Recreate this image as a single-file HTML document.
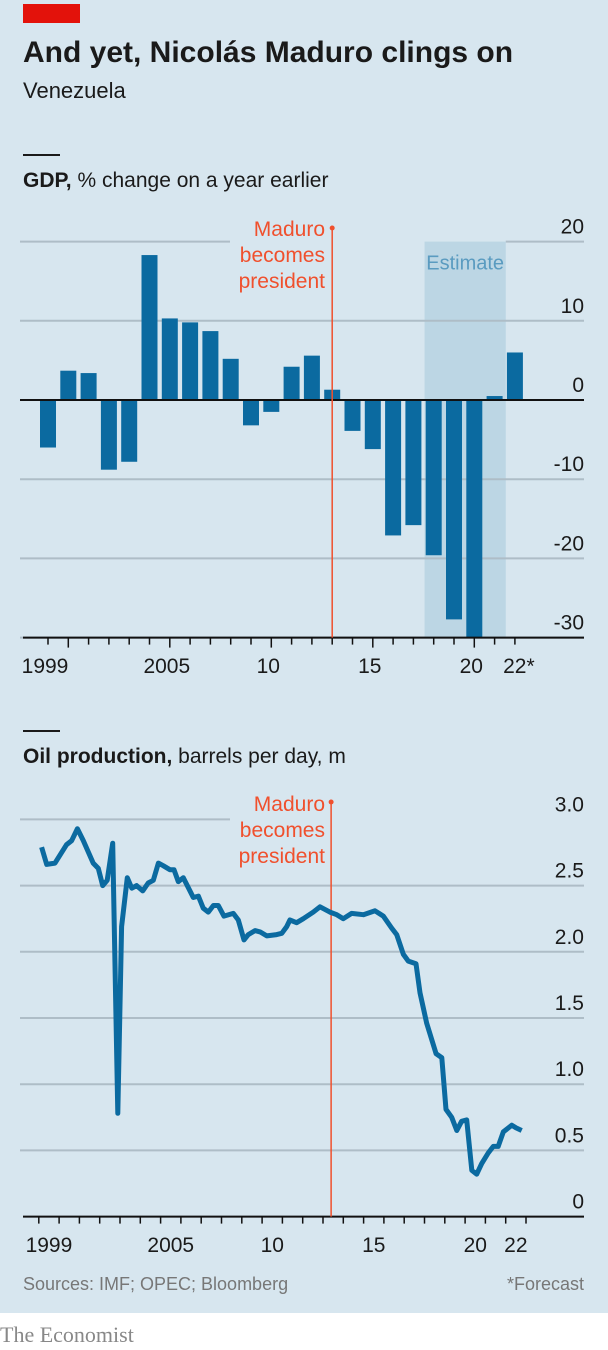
<!DOCTYPE html>
<html><head><meta charset="utf-8">
<style>
html,body{margin:0;padding:0;background:#fff;}
body{width:608px;height:1350px;position:relative;overflow:hidden;font-family:"Liberation Sans",sans-serif;}
svg{position:absolute;left:0;top:0;}
</style></head>
<body>
<svg id="chart" width="608" height="1350" viewBox="0 0 608 1350">
  <rect x="0" y="0" width="608" height="1313" fill="#d7e6ef"/>
  <rect x="23" y="4" width="57" height="19" fill="#e3120b"/>
  <text x="23" y="62" font-size="30" font-weight="bold" fill="#1a1a1a">And yet, Nicolás Maduro clings on</text>
  <text x="23" y="98" font-size="22" fill="#1a1a1a">Venezuela</text>
  <rect x="23" y="154" width="37" height="2" fill="#1a1a1a"/>
  <text x="23" y="187" font-size="21" fill="#1a1a1a"><tspan font-weight="bold">GDP,</tspan> % change on a year earlier</text>
  <rect x="23" y="730" width="37" height="2" fill="#1a1a1a"/>
  <text x="23" y="763" font-size="21" fill="#1a1a1a"><tspan font-weight="bold">Oil production,</tspan> barrels per day, m</text>
  <text x="23" y="1290" font-size="18" fill="#777">Sources: IMF; OPEC; Bloomberg</text>
  <text x="584" y="1290" font-size="18" fill="#777" text-anchor="end">*Forecast</text>
  <text x="0" y="1342" font-size="22" fill="#888" font-family="Liberation Serif, serif">The Economist</text>
  <g id="gdp"></g>
  <g id="oil"></g>
</svg>
<script>
const gdpYears = [1999,2000,2001,2002,2003,2004,2005,2006,2007,2008,2009,2010,2011,2012,2013,2014,2015,2016,2017,2018,2019,2020,2021,2022];
const gdpValues = [-6.0,3.7,3.4,-8.8,-7.8,18.3,10.3,9.8,8.7,5.2,-3.2,-1.5,4.2,5.6,1.3,-3.9,-6.2,-17.1,-15.8,-19.6,-27.7,-30,0.5,6.0];
const gdpTicks = [20,10,0,-10,-20,-30];
const gdpTickLabels = ["20","10","0","-10","-20","-30"];
const gdpXLabels = ["1999","2005","10","15","20","22*"];
const gdpXLabelYears = [1999,2005,2010,2015,2020,2022];
const estimateRange = [2017.55,2021.55];

const oilYears = [1999.14,1999.39,1999.80,2000.37,2000.62,2000.90,2001.19,2001.68,2001.93,2002.15,2002.37,2002.64,2002.89,2003.08,2003.36,2003.58,2003.82,2004.12,2004.39,2004.64,2004.89,2005.13,2005.46,2005.66,2005.87,2006.12,2006.61,2006.86,2007.10,2007.35,2007.60,2007.84,2008.12,2008.58,2008.83,2009.11,2009.32,2009.65,2009.90,2010.23,2010.72,2010.97,2011.21,2011.37,2011.70,2012.03,2012.52,2012.85,2013.34,2013.68,2014.00,2014.41,2014.99,2015.56,2015.97,2016.38,2016.63,2016.96,2017.20,2017.58,2017.78,2018.11,2018.57,2018.85,2019.06,2019.34,2019.59,2019.83,2020.08,2020.33,2020.57,2020.82,2021.14,2021.39,2021.63,2021.88,2022.30,2022.51,2022.79];
const oilValues = [2.79,2.66,2.67,2.81,2.84,2.93,2.84,2.67,2.63,2.50,2.54,2.82,0.78,2.19,2.56,2.48,2.50,2.46,2.52,2.54,2.67,2.65,2.62,2.62,2.53,2.56,2.41,2.42,2.33,2.30,2.35,2.35,2.27,2.29,2.24,2.09,2.13,2.16,2.15,2.12,2.13,2.14,2.19,2.24,2.22,2.25,2.30,2.34,2.30,2.28,2.25,2.29,2.28,2.31,2.27,2.18,2.13,1.98,1.93,1.91,1.69,1.46,1.23,1.20,0.81,0.75,0.65,0.72,0.73,0.35,0.32,0.40,0.48,0.53,0.53,0.64,0.69,0.67,0.65];
const oilTicks = [3.0,2.5,2.0,1.5,1.0,0.5,0];
const oilTickLabels = ["3.0","2.5","2.0","1.5","1.0","0.5","0"];
const oilXLabels = ["1999","2005","10","15","20","22"];
const oilXLabelYears = [1999,2005,2010,2015,2020,2022];
const maduroYear = 2013.4;

const NS="http://www.w3.org/2000/svg";
function mk(parent,tag,attrs,text){const e=document.createElementNS(NS,tag);for(const k in attrs)e.setAttribute(k,attrs[k]);if(text!==undefined)e.textContent=text;parent.appendChild(e);return e;}

const gx = y => 48 + (y-1999)*20.3;
const gy = v => 400 - v*7.92;
const G=document.getElementById('gdp');
let est=mk(G,'rect',{x:gx(estimateRange[0]),y:gy(20),width:gx(estimateRange[1])-gx(estimateRange[0]),height:gy(-30)-gy(20),fill:'#bcd6e4'});


gdpTicks.forEach((t,i)=>{
  if(t!==0){
    const x2 = (t===20)?230:584;
    let l=mk(G,'line',{x1:20,x2:x2,y1:gy(t),y2:gy(t),stroke:'#aebdc7','stroke-width':2});
    
    
    if(t===20){let l2=mk(G,'line',{x1:gx(estimateRange[1]),x2:584,y1:gy(t),y2:gy(t),stroke:'#aebdc7','stroke-width':2});
      
      }
  }
  let tl=mk(G,'text',{x:584,y:gy(t)-8,'font-size':21,'text-anchor':'end',fill:'#1a1a1a'},gdpTickLabels[i]);
  
  
});
let et=mk(G,'text',{x:(gx(estimateRange[0])+gx(estimateRange[1]))/2,y:gy(20)+28,'font-size':20,'text-anchor':'middle',fill:'#5a9bc0'},'Estimate');


gdpYears.forEach((yr,i)=>{
  const v=gdpValues[i];
  const y0=gy(Math.max(0,v)), y1=gy(Math.min(0,v));
  let b=mk(G,'rect',{x:gx(yr)-8,y:y0,width:16,height:y1-y0,fill:'#0b6aa0'});
  
  
});
let z=mk(G,'line',{x1:20,x2:584,y1:gy(0),y2:gy(0),stroke:'#111','stroke-width':2});


let ax=mk(G,'line',{x1:23,x2:584,y1:gy(-30),y2:gy(-30),stroke:'#111','stroke-width':2});


gdpYears.forEach(yr=>{
  const long=(yr%5===0);
  let t=mk(G,'line',{x1:gx(yr),x2:gx(yr),y1:gy(-30),y2:gy(-30)+(long?10:7),stroke:'#111','stroke-width':1.5});
  
  
});
gdpXLabels.forEach((s,i)=>{
  let t=mk(G,'text',{x:gx(gdpXLabelYears[i])+(s==='22*'?4:-3),y:673,'font-size':21,'text-anchor':'middle',fill:'#1a1a1a'},s);
  
  
});
let ml=mk(G,'line',{x1:gx(2013),x2:gx(2013),y1:228,y2:gy(-30),stroke:'#f0502d','stroke-width':1.5});


let md=mk(G,'circle',{cx:gx(2013),cy:228,r:2.5,fill:'#f0502d'});


["Maduro","becomes","president"].forEach((s,i)=>{
  let t=mk(G,'text',{x:325,y:236+i*26,'font-size':21,'text-anchor':'end',fill:'#f0502d'},s);
  
  
});

const ox = t => 38.8 + (t-1999)*20.3;
const oy = v => 1216.6 - v*132.4;
const O=document.getElementById('oil');
oilTicks.forEach((t,i)=>{
  if(t!==0){
    let l=mk(O,'line',{x1:20,x2:(t===3.0?230:584),y1:oy(t),y2:oy(t),stroke:'#aebdc7','stroke-width':2});
    
    
  }
  let tl=mk(O,'text',{x:584,y:oy(t)-8,'font-size':21,'text-anchor':'end',fill:'#1a1a1a'},oilTickLabels[i]);
  
  
});
let oax=mk(O,'line',{x1:23,x2:584,y1:oy(0),y2:oy(0),stroke:'#111','stroke-width':2});


for(let yr=1999;yr<=2023;yr++){
  let t=mk(O,'line',{x1:ox(yr),x2:ox(yr),y1:oy(0),y2:oy(0)+7,stroke:'#111','stroke-width':1.5});
  
  
}
oilXLabels.forEach((s,i)=>{
  let t=mk(O,'text',{x:ox(oilXLabelYears[i]+0.5),y:1252,'font-size':21,'text-anchor':'middle',fill:'#1a1a1a'},s);
  
  
});
let oml=mk(O,'line',{x1:ox(maduroYear),x2:ox(maduroYear),y1:802,y2:oy(0),stroke:'#f0502d','stroke-width':1.5});


let omd=mk(O,'circle',{cx:ox(maduroYear),cy:802,r:2.5,fill:'#f0502d'});


["Maduro","becomes","president"].forEach((s,i)=>{
  let t=mk(O,'text',{x:325,y:811+i*26,'font-size':21,'text-anchor':'end',fill:'#f0502d'},s);
  
  
});
let d=oilYears.map((t,i)=>(i?'L':'M')+ox(t).toFixed(1)+','+oy(oilValues[i]).toFixed(1)).join(' ');
let line=mk(O,'path',{d:d,fill:'none',stroke:'#0b6aa0','stroke-width':5,'stroke-linejoin':'round'});


</script>
</body></html>
